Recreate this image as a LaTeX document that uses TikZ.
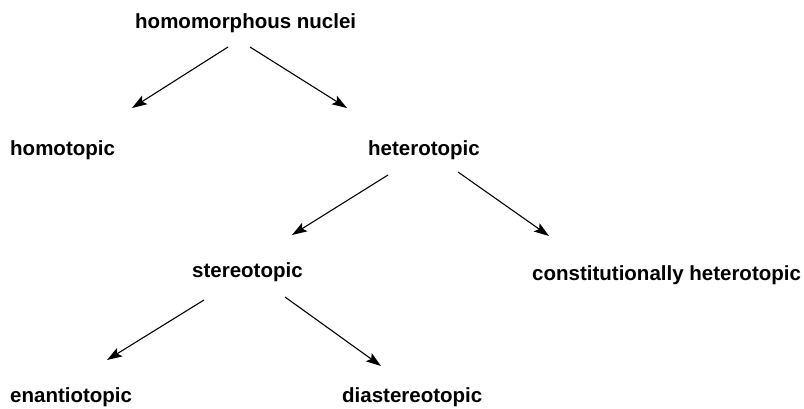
\documentclass[tikz,border=0pt]{standalone}
\usepackage{fontspec}
\setmainfont{Liberation Sans}
\usetikzlibrary{arrows.meta,calc}
\begin{document}
\begin{tikzpicture}[x=1pt,y=-1pt,
  lbl/.style={anchor=base west,inner sep=0pt,font=\fontsize{20.5}{24}\selectfont\bfseries},
  arr/.style={line width=1.1pt,-{Stealth[length=15pt,width=10pt,inset=3pt]}}]
\useasboundingbox (0,0) rectangle (804,408);
\node[lbl] (hm) at (135,28) {homomorphous nuclei};
\node[lbl] (homo) at (10,155) {homotopic};
\node[lbl] (hetero) at (368,155) {heterotopic};
\node[lbl] (stereo) at (192,277) {stereotopic};
\node[lbl] (const) at (532,280) {constitutionally heterotopic};
\node[lbl] (enan) at (10,402) {enantiotopic};
\node[lbl] (dia) at (342,402) {diastereotopic};
\draw[arr] ($(hm.base west)+(93,19)$) -- ($(homo.base west)+(122,-47)$);
\draw[arr] ($(hm.base west)+(115,19)$) -- ($(hetero.base west)+(-21,-47)$);
\draw[arr] ($(hetero.base west)+(20,20)$) -- ($(stereo.base west)+(100,-42)$);
\draw[arr] ($(hetero.base west)+(90,17)$) -- ($(const.base west)+(17,-44)$);
\draw[arr] ($(stereo.base west)+(12,23)$) -- ($(enan.base west)+(97,-42)$);
\draw[arr] ($(stereo.base west)+(93,20)$) -- ($(dia.base west)+(39,-36)$);
\end{tikzpicture}
\end{document}
